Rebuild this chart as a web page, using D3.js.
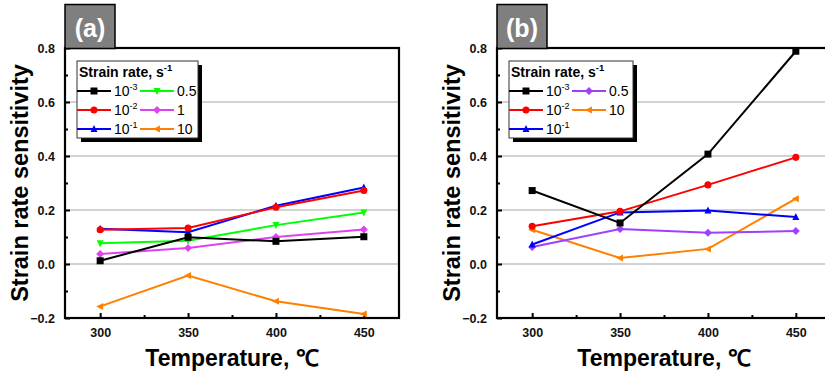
<!DOCTYPE html>
<html>
<head>
<meta charset="utf-8">
<script src="https://cdn.jsdelivr.net/npm/d3@7"></script>
<style>
  body { margin: 0; background: #fff; }
  svg { display: block; font-family: "Liberation Sans", Arial, sans-serif; }
</style>
</head>
<body>
<svg id="chart" width="825" height="376"></svg>
<script>
"use strict";

// temperatures, deg C
var temps = [300, 350, 400, 450];
var yTicks = [-0.2, 0.0, 0.2, 0.4, 0.6, 0.8];
var xTicks = [300, 350, 400, 450];

// panel (a)
var aRates = ["-3", "-2", "-1", "0.5", "1", "10"];
var aValues = [
    [0.012, 0.099, 0.084, 0.101],
    [0.127, 0.133, 0.210, 0.272],
    [0.131, 0.118, 0.216, 0.283],
    [0.077, 0.086, 0.144, 0.191],
    [0.037, 0.059, 0.100, 0.128],
    [-0.157, -0.043, -0.138, -0.185]
];
var aColors = ["#000000", "#ff0000", "#0000ff", "#00ff00", "#dd44ee", "#ff8000"];
var aShapes = ["square", "circle", "up", "down", "diamond", "left"];

// panel (b)
var bRates = ["-3", "-2", "-1", "0.5", "10"];
var bValues = [
    [0.272, 0.152, 0.407, 0.788],
    [0.140, 0.195, 0.293, 0.395],
    [0.072, 0.191, 0.198, 0.174],
    [0.063, 0.130, 0.116, 0.122],
    [0.127, 0.022, 0.056, 0.242]
];
var bColors = ["#000000", "#ff0000", "#0000ff", "#a040ff", "#ff8000"];
var bShapes = ["square", "circle", "up", "diamond", "left"];

var svg = d3.select("#chart");
var W = 334, H = 270;

function symbolPath(shape, s) {
    var h = s / 2;
    if (shape === "square") return "M" + -h + "," + -h + "h" + s + "v" + s + "h" + -s + "Z";
    if (shape === "circle") return d3.symbol(d3.symbolCircle, s * s * 0.8)();
    if (shape === "up") return "M0," + (-h - 0.5) + "L" + h + "," + (h - 0.5) + "L" + -h + "," + (h - 0.5) + "Z";
    if (shape === "down") return "M0," + (h + 0.5) + "L" + h + "," + (-h + 0.5) + "L" + -h + "," + (-h + 0.5) + "Z";
    if (shape === "left") return "M" + (-h - 0.5) + ",0L" + (h - 0.5) + "," + -h + "L" + (h - 0.5) + "," + h + "Z";
    if (shape === "diamond") return "M0," + (-h - 0.5) + "L" + (h + 0.5) + ",0L0," + (h + 0.5) + "L" + (-h - 0.5) + ",0Z";
}

function drawPanel(left, label, rates, values, colors, shapes, legendW) {
    var g = svg.append("g").attr("transform", "translate(" + left + ",48)");
    var x = d3.scaleLinear().domain([280, 470]).range([0, W]);
    var y = d3.scaleLinear().domain([-0.2, 0.8]).range([H, 0]);

    // gridlines
    g.append("g").selectAll("line")
        .data(yTicks.filter(function (d) { return d > -0.2 && d < 0.8; }))
        .enter().append("line")
        .attr("x1", 0).attr("x2", W)
        .attr("y1", function (d) { return y(d); })
        .attr("y2", function (d) { return y(d); })
        .attr("stroke", "#a6a6a6").attr("stroke-width", 1.2);

    // label box
    svg.append("rect")
        .attr("x", left).attr("y", 4.5).attr("width", 50).attr("height", 44)
        .attr("fill", "#7f7f7f").attr("stroke", "#000").attr("stroke-width", 1.5);
    svg.append("text")
        .attr("x", left + 25).attr("y", 37)
        .attr("text-anchor", "middle")
        .attr("fill", "#fff").attr("font-size", 25).attr("font-weight", "bold")
        .text(label);

    // axes: inward major and minor ticks
    var xAx = g.append("g").attr("transform", "translate(0," + H + ")")
        .call(d3.axisBottom(x).tickValues(xTicks).tickSize(-5).tickPadding(10).tickFormat(d3.format("d")));
    g.append("g").attr("transform", "translate(0," + H + ")")
        .call(d3.axisBottom(x).tickValues([325, 375, 425]).tickSize(-3).tickFormat(""));
    var yAx = g.append("g")
        .call(d3.axisLeft(y).tickValues(yTicks).tickSize(-5).tickPadding(10).tickFormat(d3.format(".1f")));
    g.append("g")
        .call(d3.axisLeft(y).tickValues([-0.1, 0.1, 0.3, 0.5, 0.7]).tickSize(-3).tickFormat(""));
    g.selectAll(".domain").remove();
    g.selectAll(".tick line").attr("stroke", "#000").attr("stroke-width", 2);
    g.selectAll(".tick text").attr("font-size", 12.5).attr("font-weight", "bold")
        .attr("font-family", "Liberation Sans, Arial, sans-serif").attr("fill", "#111");
    xAx.selectAll(".tick text").attr("dy", "0.75em");

    // frame
    g.append("rect").attr("width", W).attr("height", H)
        .attr("fill", "none").attr("stroke", "#000").attr("stroke-width", 2.2);

    // series
    var line = d3.line()
        .x(function (d, i) { return x(temps[i]); })
        .y(function (d) { return y(d); });
    var order = d3.range(values.length).reverse();
    order.forEach(function (k) {
        g.append("path").datum(values[k])
            .attr("d", line).attr("fill", "none")
            .attr("stroke", colors[k]).attr("stroke-width", 2);
        g.selectAll(null).data(values[k]).enter().append("path")
            .attr("transform", function (d, i) { return "translate(" + x(temps[i]) + "," + y(d) + ")"; })
            .attr("d", symbolPath(shapes[k], 7))
            .attr("fill", colors[k]);
    });

    // legend
    var lx = 12, ly = 13, lh = 77;
    var lg = g.append("g").attr("transform", "translate(" + lx + "," + ly + ")");
    lg.append("rect").attr("x", 4).attr("y", 4).attr("width", legendW).attr("height", lh).attr("fill", "#000");
    lg.append("rect").attr("width", legendW).attr("height", lh)
        .attr("fill", "#fff").attr("stroke", "#333").attr("stroke-width", 1);
    var tt = lg.append("text").attr("x", 2).attr("y", 16)
        .attr("font-size", 14).attr("font-weight", "bold").attr("fill", "#000");
    tt.append("tspan").text("Strain rate, s");
    tt.append("tspan").attr("font-size", 9.5).attr("dy", -6).text("-1");

    rates.forEach(function (r, i) {
        var col = Math.floor(i / 3), row = i % 3;
        var ex = col * 63, ey = 30 + row * 19;
        lg.append("line").attr("x1", ex).attr("x2", ex + 34)
            .attr("y1", ey).attr("y2", ey)
            .attr("stroke", colors[i]).attr("stroke-width", 2);
        lg.append("path").attr("transform", "translate(" + (ex + 17) + "," + ey + ")")
            .attr("d", symbolPath(shapes[i], 7)).attr("fill", colors[i]);
        var t = lg.append("text").attr("x", ex + 37).attr("y", ey + 5)
            .attr("font-size", 14).attr("fill", "#000");
        if (r.charAt(0) === "-") {
            t.append("tspan").text("10");
            t.append("tspan").attr("font-size", 9).attr("dy", -6).text(r);
        } else {
            t.text(r);
        }
    });

    // axis titles
    g.append("text")
        .attr("transform", "translate(-37," + (H / 2) + ") rotate(-90)")
        .attr("text-anchor", "middle")
        .attr("font-size", 23.5).attr("font-weight", "bold").attr("fill", "#000")
        .text("Strain rate sensitivity");
    g.append("text")
        .attr("x", W / 2).attr("y", H + 48)
        .attr("text-anchor", "middle")
        .attr("font-size", 23).attr("font-weight", "bold").attr("fill", "#000")
        .text("Temperature, \u2103");
}

drawPanel(65, "(a)", aRates, aValues, aColors, aShapes, 121);
drawPanel(497, "(b)", bRates, bValues, bColors, bShapes, 124);
</script>
</body>
</html>
